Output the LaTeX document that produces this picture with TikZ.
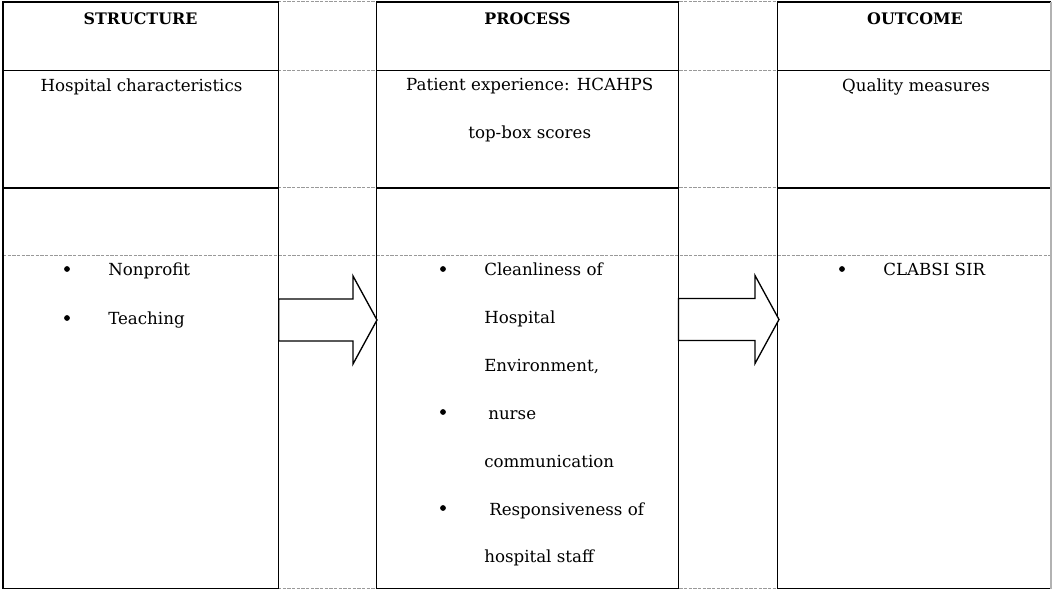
\documentclass[tikz,border=0pt]{standalone}
\usepackage{fontspec}
\setmainfont{DejaVu Serif}
\usetikzlibrary{calc}
\tikzset{
	gridline/.style={line width=0.75pt, color=black!40, dash pattern=on 2.4pt off 1.1pt},
	boxline/.style={line width=1pt},
	txt/.style={anchor=base, inner sep=0pt, font=\fontsize{12.5}{15}\selectfont},
	ltxt/.style={txt, anchor=base west},
	head/.style={txt, font=\fontsize{11.9}{15}\selectfont\bfseries}
}
\def\blockarrow(#1:#2:#3){\draw[boxline, fill=white] (#1, #3-21) -- (#2-24, #3-21) -- (#2-24, #3-44) -- (#2, #3) -- (#2-24, #3+44) -- (#2-24, #3+21) -- (#1, #3+21) -- cycle;}
\def\listdot(#1,#2){\fill (#1, #2-7) circle (2.9);}

\begin{document}
\begin{tikzpicture}[x=0.75pt, y=-0.75pt]
		%%%%% START %%%%%
		\useasboundingbox (0, 0) rectangle (1052, 591);
		
		% grid between the columns
		\draw[gridline] (278, 2) -- (777, 2);
		\draw[gridline] (278, 70.7) -- (777, 70.7);
		\draw[gridline] (278, 188) -- (777, 188);
		\draw[gridline] (278, 588.7) -- (777, 588.7);
		\draw[gridline] (3, 256) -- (1051, 256);
		
		% columns
		\draw[boxline] (3, 2) rectangle (278.7, 588.7);
		\draw[boxline] (3, 70.7) -- (278.7, 70.7);
		\draw[boxline] (3, 188) -- (278.7, 188);
		
		\draw[boxline] (376.7, 2) rectangle (678.5, 588.7);
		\draw[boxline] (376.7, 70.7) -- (678.5, 70.7);
		\draw[boxline] (376.7, 188) -- (678.5, 188);
		
		\draw[boxline] (777.3, 2) -- (1051, 2);
		\draw[boxline] (777.3, 2) -- (777.3, 588.7) -- (1051, 588.7);
		\draw[boxline] (777.3, 70.7) -- (1051, 70.7);
		\draw[boxline] (777.3, 188) -- (1051, 188);
		\draw[line width=0.8pt, color=black!30] (1051, 2) -- (1051, 588.7);
		
		% headings
		\node[head] (struct) at (140.5, 25) {STRUCTURE};
		\node[head] (proc) at (527.5, 25) {PROCESS};
		\node[head] (outc) at (915, 25) {OUTCOME};
		
		\node[txt] (charac) at (141.5, 91.5) {Hospital characteristics};
		\node[txt] (exper) at (529.7, 90.5) {Patient experience: HCAHPS};
		\node[txt] (topbox) at (529.7, 139) {top-box scores};
		\node[txt] (qual) at (916, 91.5) {Quality measures};
		
		% arrows
		\blockarrow(278.7:377:320);
		\blockarrow(678.5:779:319.5);
		
		% lists
		\listdot(67, 276);
		\node[ltxt] (nonprof) at (108, 276) {Nonprofit};
		\listdot(67, 325);
		\node[ltxt] (teach) at (108, 325) {Teaching};
		
		\listdot(443, 276);
		\node[ltxt] (clean) at (484, 276) {Cleanliness of};
		\node[ltxt] (hosp) at (484, 323.5) {Hospital};
		\node[ltxt] (envir) at (484, 371) {Environment,};
		\listdot(443, 419);
		\node[ltxt] (nurse) at (488, 419) {nurse};
		\node[ltxt] (commu) at (484, 467) {communication};
		\listdot(443, 515);
		\node[ltxt] (respo) at (489, 515) {Responsiveness of};
		\node[ltxt] (staff) at (484, 562) {hospital staff};
		
		\listdot(842, 276);
		\node[ltxt] (clabsi) at (883, 276) {CLABSI SIR};
		%%%%% END %%%%%
\end{tikzpicture}
\end{document}
